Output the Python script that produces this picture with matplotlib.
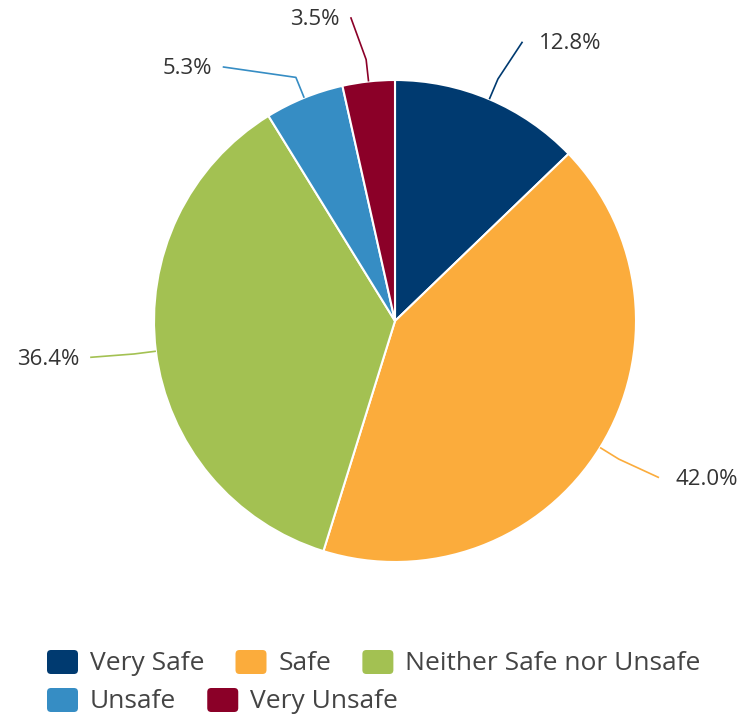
import numpy as np
import matplotlib.pyplot as plt
from matplotlib.patches import FancyBboxPatch

# ── Data ──
categories = ['Very Safe', 'Safe', 'Neither Safe nor Unsafe', 'Unsafe', 'Very Unsafe']
shares = [12.8, 42.0, 36.4, 5.3, 3.5]
colors = ['#003a70', '#fbac3c', '#a3c152', '#368dc4', '#8b0028']

# label placement tweaks (degrees) so labels don't collide
label_shift = [-1.5, 1.0, -0.4, 12.0, 2.0]

W, H = 742, 714
plt.rcParams['font.family'] = ['Open Sans', 'DejaVu Sans']

fig = plt.figure(figsize=(W / 100, H / 100), dpi=100)
ax = fig.add_axes([0, 0, 1, 1])

cx, cy, R = 395, H - 321, 241
wedges, _ = ax.pie(shares, colors=colors, startangle=90, counterclock=False,
                   center=(cx, cy), radius=R,
                   wedgeprops=dict(edgecolor='white', linewidth=1.5))

ax.set_xlim(0, W)
ax.set_ylim(0, H)
ax.set_aspect('equal')
ax.axis('off')

# ── Data labels with leader lines ──
for w, val, col, shift in zip(wedges, shares, colors, label_shift):
    mid = np.deg2rad((w.theta1 + w.theta2) / 2)
    lab = np.deg2rad((w.theta1 + w.theta2) / 2 + shift)
    p0 = (cx + R * np.cos(mid), cy + R * np.sin(mid))
    p1 = (cx + (R + 22) * np.cos(mid), cy + (R + 22) * np.sin(mid))
    p2 = (cx + (R + 66) * np.cos(lab), cy + (R + 66) * np.sin(lab))
    ax.plot([p0[0], p1[0], p2[0]], [p0[1], p1[1], p2[1]], color=col, lw=1.2,
            solid_capstyle='butt')
    if np.cos(lab) > 0.2:
        ax.text(p2[0] + 16, p2[1] - 2, f'{val:.1f}%', ha='left', va='center',
                fontsize=16, color='#333333')
    else:
        ax.text(p2[0] - 11, p2[1] - 2, f'{val:.1f}%', ha='right', va='center',
                fontsize=16, color='#333333')

# ── Legend (manual, two rows) ──
legend_rows = [[0, 1, 2], [3, 4]]
row_y = [H - 662, H - 700]
for row, y in zip(legend_rows, row_y):
    x = 47
    for i in row:
        ax.add_patch(FancyBboxPatch((x, y - 12), 31, 24,
                                    boxstyle='round,pad=0,rounding_size=4',
                                    facecolor=colors[i], edgecolor='none'))
        t = ax.text(x + 43, y - 1, categories[i], ha='left', va='center',
                    fontsize=19, color='#444444')
        fig.canvas.draw()
        bb = t.get_window_extent()
        x = bb.x1 + 31

fig.savefig('out.png', dpi=100, facecolor='white')
